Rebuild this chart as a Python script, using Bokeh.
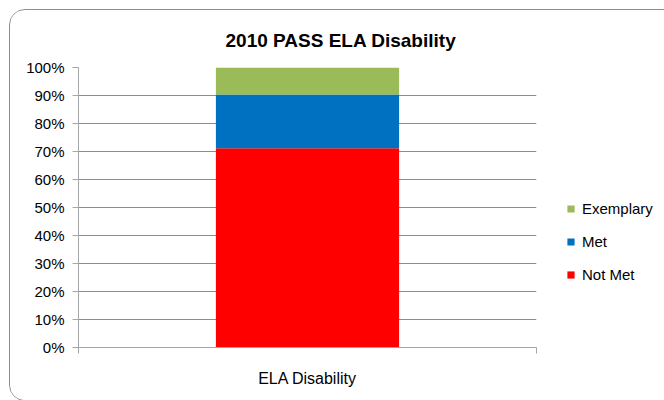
from bokeh.plotting import figure
from bokeh.models import (Range1d, FixedTicker, NumeralTickFormatter, Legend, LegendItem,
                          ColumnDataSource)
from bokeh.embed import file_html
from bokeh.resources import INLINE

# data
title = "2010 PASS ELA Disability"
categories = ["ELA Disability"]
series = ["Not Met", "Met", "Exemplary"]
not_met = [0.712]
met = [0.192]
exemplary = [0.096]
colors = ["#FF0000", "#0070C0", "#9BBB59"]
y_ticks = [i / 10 for i in range(11)]

xpos = [0.5 + i for i in range(len(categories))]
src = ColumnDataSource(dict(x=xpos, cat=categories, **{"Not Met": not_met, "Met": met, "Exemplary": exemplary}))

FONT = "Liberation Sans"

p = figure(frame_width=458, frame_height=280, output_backend="svg", toolbar_location=None,
           x_range=Range1d(0, len(categories)), y_range=Range1d(0, 1),
           min_border_left=68, min_border_right=127, min_border_top=57, min_border_bottom=53)
p.styles = {"border": "1px solid #8c8c8c", "border-radius": "16px",
            "margin-left": "9px", "margin-top": "9px", "overflow": "hidden"}
p.outline_line_color = None
p.background_fill_color = "white"

p.title.text = title
p.title.align = "left"
p.title.vertical_align = "top"
p.title.text_font = FONT
p.title.text_font_size = "19px"
p.title.text_font_style = "bold"
p.title.text_color = "black"
p.title.offset = 147
p.title.standoff = 30

rs = p.vbar_stack(series, x="x", width=0.4, color=colors, source=src, line_color=None)

legend = Legend(items=[LegendItem(label=s, renderers=[r]) for s, r in reversed(list(zip(series, rs)))])
legend.location = (30, 63)
legend.margin = 0
legend.padding = 0
legend.border_line_color = None
legend.background_fill_alpha = 0
legend.glyph_width = 9
legend.glyph_height = 9
legend.label_height = 20
legend.spacing = 13
legend.label_standoff = 7
legend.label_text_font = FONT
legend.label_text_font_size = "15px"
legend.label_text_color = "black"
p.add_layout(legend, "right")

# y axis
p.yaxis.ticker = FixedTicker(ticks=y_ticks)
p.yaxis.formatter = NumeralTickFormatter(format="0%")
p.yaxis.major_tick_out = 6
p.yaxis.major_tick_in = 0
p.yaxis.minor_tick_line_color = None
p.yaxis.axis_line_color = "#a6a6a6"
p.yaxis.major_tick_line_color = "#a6a6a6"
p.yaxis.major_label_standoff = 8
p.yaxis.major_label_text_font = FONT
p.yaxis.major_label_text_font_size = "15px"
p.yaxis.major_label_text_color = "black"

# x axis
p.xaxis.ticker = FixedTicker(ticks=xpos, minor_ticks=[float(i) for i in range(len(categories) + 1)])
p.xaxis.major_label_overrides = {x: c for x, c in zip(xpos, categories)}
p.xaxis.major_tick_line_color = None
p.xaxis.minor_tick_out = 6
p.xaxis.minor_tick_in = 0
p.xaxis.minor_tick_line_color = "#a6a6a6"
p.xaxis.axis_line_color = "#a6a6a6"
p.xaxis.major_label_standoff = 16
p.xaxis.major_label_text_font = FONT
p.xaxis.major_label_text_font_size = "16px"
p.xaxis.major_label_text_color = "black"

p.xgrid.grid_line_color = None
p.ygrid.grid_line_color = "#8c8c8c"
p.ygrid.ticker = FixedTicker(ticks=y_ticks)

open("out.html", "w").write(file_html(p, INLINE))
